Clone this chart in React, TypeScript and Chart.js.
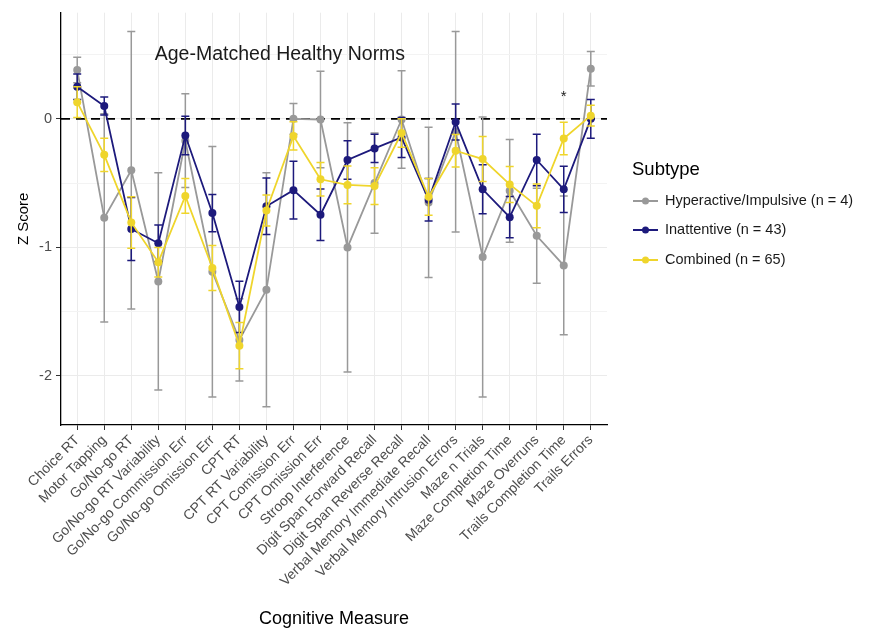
import React, { useEffect, useRef } from 'react';
import { Chart, registerables } from 'chart.js';

Chart.register(...registerables);

const categories = [
  'Choice RT',
  'Motor Tapping',
  'Go/No-go RT',
  'Go/No-go RT Variability',
  'Go/No-go Commission Err',
  'Go/No-go Omission Err',
  'CPT RT',
  'CPT RT Variability',
  'CPT Comission Err',
  'CPT Omission Err',
  'Stroop Interference',
  'Digit Span Forward Recall',
  'Digit Span Reverse Recall',
  'Verbal Memory Immediate Recall',
  'Verbal Memory Intrusion Errors',
  'Maze n Trials',
  'Maze Completion Time',
  'Maze Overruns',
  'Trails Completion Time',
  'Trails Errors',
];

const seriesNames = [
  'Hyperactive/Impulsive (n = 4)',
  'Inattentive (n = 43)',
  'Combined (n = 65)',
];

const hyperMean = [0.38, -0.77, -0.40, -1.265, -0.17, -1.19, -1.72, -1.33, 0.0, -0.005, -1.0, -0.50, -0.005, -0.65, -0.10, -1.075, -0.56, -0.91, -1.14, 0.39];
const hyperErr = [0.10, 0.81, 1.08, 0.845, 0.365, 0.975, 0.32, 0.91, 0.12, 0.375, 0.97, 0.39, 0.38, 0.585, 0.78, 1.09, 0.40, 0.37, 0.54, 0.135];

const inattMean = [0.25, 0.10, -0.857, -0.968, -0.13, -0.733, -1.463, -0.68, -0.555, -0.746, -0.32, -0.23, -0.145, -0.63, -0.025, -0.548, -0.765, -0.32, -0.548, 0.0];
const inattErr = [0.10, 0.07, 0.245, 0.143, 0.15, 0.145, 0.2, 0.22, 0.225, 0.2, 0.15, 0.11, 0.155, 0.165, 0.14, 0.19, 0.16, 0.2, 0.18, 0.15];

const combMean = [0.13, -0.28, -0.806, -1.115, -0.60, -1.16, -1.765, -0.713, -0.133, -0.47, -0.514, -0.523, -0.11, -0.607, -0.248, -0.313, -0.51, -0.677, -0.153, 0.025];
const combErr = [0.12, 0.13, 0.2, 0.115, 0.135, 0.175, 0.18, 0.12, 0.11, 0.13, 0.147, 0.143, 0.11, 0.143, 0.127, 0.175, 0.14, 0.17, 0.127, 0.08];

const referenceValue = 0;
const annotationText = 'Age-Matched Healthy Norms';
const annotationPos = { x: 7.5, y: 0.5 };
const starPos = { x: 18, y: 0.17 };

const COLORS = ['#999999', '#1d1a7c', '#efd52c'];
const FONT = "'Liberation Sans', Arial, Helvetica, sans-serif";

const isWhole = (v: number) => Math.abs(v - Math.round(v)) < 1e-6;

const errorBarPlugin = {
  id: 'errorBars',
  beforeDatasetDraw(chart: any, args: any) {
    const ds = chart.data.datasets[args.index];
    const errs: number[] = ds.errors;
    if (!errs) return;
    const yScale = chart.scales.y;
    const ctx = chart.ctx;
    ctx.save();
    ctx.strokeStyle = ds.borderColor;
    ctx.lineWidth = 1.5;
    const cap = 4;
    args.meta.data.forEach((pt: any, i: number) => {
      const v = ds.data[i].y;
      const e = errs[i];
      const yTop = yScale.getPixelForValue(v + e);
      const yBot = yScale.getPixelForValue(v - e);
      const x = pt.x;
      ctx.beginPath();
      ctx.moveTo(x, yTop);
      ctx.lineTo(x, yBot);
      ctx.moveTo(x - cap, yTop);
      ctx.lineTo(x + cap, yTop);
      ctx.moveTo(x - cap, yBot);
      ctx.lineTo(x + cap, yBot);
      ctx.stroke();
    });
    ctx.restore();
  },
};

const refLinePlugin = {
  id: 'refLine',
  beforeDatasetsDraw(chart: any) {
    const { ctx, chartArea } = chart;
    const y = chart.scales.y.getPixelForValue(referenceValue);
    ctx.save();
    ctx.strokeStyle = '#000';
    ctx.lineWidth = 1.8;
    ctx.setLineDash([9, 6]);
    ctx.beginPath();
    ctx.moveTo(chartArea.left, y);
    ctx.lineTo(chartArea.right, y);
    ctx.stroke();
    ctx.restore();
  },
};

const textPlugin = {
  id: 'texts',
  afterDraw(chart: any) {
    const { ctx, chartArea } = chart;
    const xs = chart.scales.x;
    const ys = chart.scales.y;
    ctx.save();
    ctx.fillStyle = '#1a1a1a';
    ctx.textAlign = 'center';
    ctx.textBaseline = 'middle';
    ctx.font = `19.5px ${FONT}`;
    ctx.fillText(annotationText, xs.getPixelForValue(annotationPos.x), ys.getPixelForValue(annotationPos.y));
    ctx.font = `15px ${FONT}`;
    ctx.fillText('*', xs.getPixelForValue(starPos.x), ys.getPixelForValue(starPos.y));

    // legend
    const lx = chartArea.right + 26;
    ctx.textAlign = 'left';
    ctx.fillStyle = '#000';
    ctx.font = `18.5px ${FONT}`;
    ctx.fillText('Subtype', lx - 1, 170);
    ctx.font = `14.5px ${FONT}`;
    const rows = [201, 230, 260];
    seriesNames.forEach((name, i) => {
      const y = rows[i];
      ctx.strokeStyle = COLORS[i];
      ctx.fillStyle = COLORS[i];
      ctx.lineWidth = 2;
      ctx.beginPath();
      ctx.moveTo(lx, y);
      ctx.lineTo(lx + 25, y);
      ctx.stroke();
      ctx.beginPath();
      ctx.arc(lx + 12.5, y, 3.5, 0, Math.PI * 2);
      ctx.fill();
      ctx.fillStyle = '#1a1a1a';
      ctx.fillText(name, lx + 32, y);
    });
    ctx.restore();
  },
};

const makeSeries = (label: string, means: number[], errs: number[], color: string, order: number) => ({
  label,
  data: means.map((v, i) => ({ x: i, y: v })),
  errors: errs,
  borderColor: color,
  backgroundColor: color,
  pointBackgroundColor: color,
  pointBorderWidth: 0,
  pointRadius: 4,
  borderWidth: 1.8,
  tension: 0,
  order,
});

export default function App() {
  const canvasRef = useRef<HTMLCanvasElement>(null);

  useEffect(() => {
    const canvas = canvasRef.current;
    if (!canvas) return;
    const chart = new Chart(canvas, {
      type: 'line',
      data: {
        datasets: [
          makeSeries(seriesNames[0], hyperMean, hyperErr, COLORS[0], 3),
          makeSeries(seriesNames[1], inattMean, inattErr, COLORS[1], 2),
          makeSeries(seriesNames[2], combMean, combErr, COLORS[2], 1),
        ] as any,
      },
      options: {
        responsive: false,
        animation: false,
        devicePixelRatio: 1,
        layout: { padding: { left: 0, top: 11, right: 263, bottom: 0 } },
        plugins: {
          legend: { display: false },
          tooltip: { enabled: false },
        },
        scales: {
          x: {
            type: 'linear',
            min: -0.6,
            max: 19.6,
            ticks: {
              stepSize: 1,
              includeBounds: false,
              autoSkip: false,
              maxRotation: 45,
              minRotation: 45,
              color: '#4d4d4d',
              font: { family: FONT, size: 14 },
              padding: 2,
              callback: (v: any) => (isWhole(v) ? categories[Math.round(v)] ?? '' : ''),
            },
            grid: { color: '#ebebeb', lineWidth: 1, tickColor: '#333', tickLength: 5 },
            border: { display: true, color: '#000', width: 1.3 },
            title: {
              display: true,
              text: 'Cognitive Measure',
              color: '#000',
              font: { family: FONT, size: 18 },
              padding: { top: 0, bottom: 3 },
            },
            afterFit: (s: any) => {
              s.height = 208;
            },
          },
          y: {
            type: 'linear',
            min: -2.382,
            max: 0.826,
            ticks: {
              stepSize: 0.5,
              includeBounds: false,
              color: '#4d4d4d',
              font: { family: FONT, size: 14.5 },
              padding: 4,
              callback: (v: any) => (isWhole(v) ? String(Math.round(v)) : ''),
            },
            grid: {
              color: (c: any) => (c.tick && isWhole(c.tick.value) ? '#ebebeb' : '#f3f3f3'),
              tickColor: (c: any) => (c.tick && isWhole(c.tick.value) ? '#333' : 'rgba(0,0,0,0)'),
              tickLength: 5,
            },
            border: { display: true, color: '#000', width: 1.3 },
            title: {
              display: true,
              text: 'Z Score',
              color: '#000',
              font: { family: FONT, size: 15 },
              padding: { top: 15, bottom: 0 },
            },
            afterFit: (s: any) => {
              s.width = 61;
            },
          },
        },
      } as any,
      plugins: [refLinePlugin, errorBarPlugin, textPlugin],
    });
    return () => chart.destroy();
  }, []);

  return (
    <div style={{ position: 'absolute', left: 0, top: 0, width: 870, height: 633, background: '#fff' }}>
      <canvas ref={canvasRef} width={870} height={633} style={{ display: 'block' }} />
    </div>
  );
}
